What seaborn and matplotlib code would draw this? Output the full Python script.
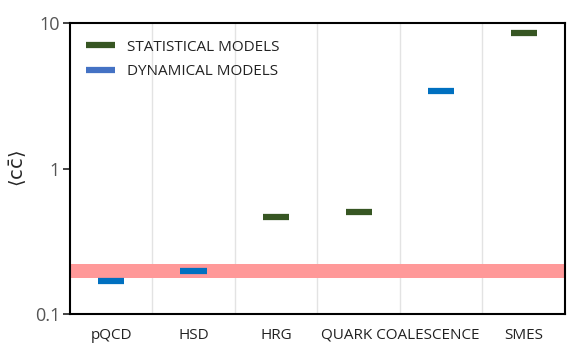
import numpy as np
import pandas as pd
import matplotlib
matplotlib.use("Agg")
import matplotlib.pyplot as plt
import seaborn as sns
from matplotlib.lines import Line2D

# data
models = ["pQCD", "HSD", "HRG", "QUARK", "COALESCENCE", "SMES"]
kind = ["DYNAMICAL", "DYNAMICAL", "STATISTICAL", "STATISTICAL", "DYNAMICAL", "STATISTICAL"]
ccbar = [0.169, 0.198, 0.467, 0.50, 3.41, 8.54]
band_lo, band_hi = 0.176, 0.221
tick_pos = [0, 1, 2, 3.5, 5]
tick_labels = ["pQCD", "HSD", "HRG", "QUARK COALESCENCE", "SMES"]

green = "#375623"
blue_mark = "#0070c0"
blue_leg = "#4472c4"

sns.set_style("white")
plt.rcParams["font.family"] = ["Open Sans", "DejaVu Sans"]
plt.rcParams["mathtext.fontset"] = "dejavusans"

df = pd.DataFrame({"model": models, "kind": kind, "ccbar": ccbar})

fig = plt.figure(figsize=(5.87, 3.61), dpi=100)
ax = fig.add_axes([0.119, 0.130, 0.8435, 0.806])

ax.axhspan(band_lo, band_hi, color="#ff9999", lw=0, zorder=1)

sns.scatterplot(data=df, x="model", y="ccbar", hue="kind",
                palette={"STATISTICAL": green, "DYNAMICAL": blue_mark},
                marker="_", s=360, linewidth=4.5, legend=False, ax=ax, zorder=3)

ax.set_yscale("log")
ax.set_ylim(0.1, 10)
ax.set_xlim(-0.5, 5.5)
ax.set_yticks([0.1, 1, 10])
ax.set_yticklabels(["0.1", "1", "10"])
ax.yaxis.set_minor_locator(matplotlib.ticker.NullLocator())

ax.set_xticks(tick_pos)
ax.set_xticklabels(tick_labels, fontsize=11, color="#222222")
ax.tick_params(axis="x", length=0, pad=10)
ax.tick_params(axis="y", length=5, width=1.2, direction="out", labelsize=13,
               colors="#222222", labelcolor="#555555", pad=2, left=True)

for b in np.arange(0.5, 5.5, 1.0):
    ax.axvline(b, color="#e3e3e3", lw=1, zorder=0)

for sp in ax.spines.values():
    sp.set_visible(True)
    sp.set_color("black")
    sp.set_linewidth(1.5)

ax.set_xlabel("")
ax.set_ylabel(r"$\langle \mathrm{c}\bar{\mathrm{c}} \rangle$", fontsize=14, labelpad=4)

handles = [Line2D([0], [0], color=green, lw=4.5, solid_capstyle="butt"),
           Line2D([0], [0], color=blue_leg, lw=4.5, solid_capstyle="butt")]
leg = ax.legend(handles, ["STATISTICAL MODELS", "DYNAMICAL MODELS"], loc="upper left",
                frameon=False, fontsize=11, handlelength=1.9, handletextpad=0.8,
                labelspacing=0.6, bbox_to_anchor=(0.005, 0.99))
for t in leg.get_texts():
    t.set_color("#222222")

fig.savefig("out.png", dpi=100)
